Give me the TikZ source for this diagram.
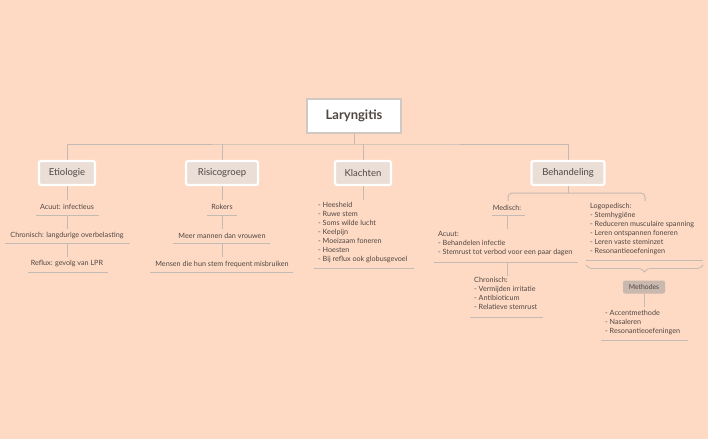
\documentclass[tikz,border=0pt]{standalone}
\usepackage{fontspec}
\setmainfont{Lato}
\usetikzlibrary{decorations.pathreplacing}
\definecolor{bg}{RGB}{254,218,196}
\definecolor{ln}{RGB}{196,186,180}
\definecolor{tx}{RGB}{80,70,66}
\definecolor{boxf}{RGB}{234,222,214}
\definecolor{meth}{RGB}{200,184,174}
\begin{document}
\begin{tikzpicture}[x=1pt,y=-1pt,
  conn/.style={draw=ln,line width=1pt},
  lvl/.style={draw=white,line width=2.2pt,fill=boxf,rounded corners=2pt,minimum height=24pt,font=\fontsize{9.5}{10}\selectfont,text=tx,inner sep=0pt},
  leaf/.style={font=\fontsize{7.2}{9}\selectfont,text=tx,inner sep=0pt},
  lst/.style={leaf,align=left,anchor=north west},
  ul/.style={draw=ln,line width=0.8pt}]
\fill[bg] (0,0) rectangle (708,439);
\useasboundingbox (0,0) rectangle (708,439);
\node[draw=ln!80,line width=2pt,fill=white,minimum width=94pt,minimum height=34pt,font=\bfseries\fontsize{13}{14}\selectfont,text=tx] (root) at (354,116) {Laryngitis};
\node[lvl,minimum width=56pt] (eti) at (67,173) {Etiologie};
\node[lvl,minimum width=72pt] (ris) at (222,173) {Risicogroep};
\node[lvl,minimum width=56pt] (kla) at (363,173) {Klachten};
\node[lvl,minimum width=73pt] (beh) at (568,173) {Behandeling};
\coordinate (j) at (354,144);
\draw[conn] (root.south) -- (j);
\draw[conn] (eti.north) |- (j) -| (beh.north);
\draw[conn] (ris.north) -- (ris.north |- j);
\draw[conn] (kla.north) -- (kla.north |- j);
% Etiologie
\node[leaf] (e1) at (67,207) {Acuut: infectieus};
\node[leaf] (e2) at (67,236) {Chronisch: langdurige overbelasting};
\node[leaf] (e3) at (67,264) {Reflux: gevolg van LPR};
\coordinate (e1u) at (67,215);\coordinate (e2u) at (67,243);
\draw[conn] (eti.south) -- ++(0,14);
\draw[ul] (36,215) -- (99,215); \draw[ul] (5,243) -- (130,243); \draw[ul] (28,272) -- (108,272);
\draw[conn] (e1u) -- ++(0,14); \draw[conn] (e2u) -- ++(0,14);
% Risicogroep
\node[leaf] (r1) at (222,207) {Rokers};
\node[leaf] (r2) at (222,236) {Meer mannen dan vrouwen};
\node[leaf] (r3) at (222,264) {Mensen die hun stem frequent misbruiken};
\draw[conn] (ris.south) -- ++(0,14);
\draw[ul] (207,215) -- (237,215); \draw[ul] (173,243) -- (270,243); \draw[ul] (150,272) -- (293,272);
\draw[conn] (222,215) -- ++(0,14); \draw[conn] (222,243) -- ++(0,14);
% Klachten
\draw[conn] (kla.south) -- ++(0,14);
\node[lst] (k) at (318,202) {- Heesheid\\- Ruwe stem\\- Soms wilde lucht\\- Keelpijn\\- Moeizaam foneren\\- Hoesten\\- Bij reflux ook globusgevoel};
\draw[ul] (314,268) -- (414,268);
% Behandeling
\draw[conn] (beh.south) -- (568,193);
\draw[conn,rounded corners=4pt] (508,201) -- (508,193) -- (645,193) -- (645,201);
\node[leaf] (med) at (507,208) {Medisch:};
\draw[ul] (492,215) -- (525,215);
\draw[conn] (507,215) -- (507,229);
\node[lst] (acu) at (438,231) {Acuut:\\- Behandelen infectie\\- Stemrust tot verbod voor een paar dagen};
\draw[ul] (434,262) -- (578,262);
\draw[conn] (507,262) -- (507,276);
\node[lst] (chr) at (474,277) {Chronisch:\\- Vermijden irritatie\\- Antibioticum\\- Relatieve stemrust};
\draw[ul] (470,317) -- (543,317);
\node[lst] (log) at (590,203) {Logopedisch:\\- Stemhygiëne\\- Reduceren musculaire spanning\\- Leren ontspannen foneren\\- Leren vaste steminzet\\- Resonantieoefeningen};
\draw[ul] (586,260) -- (703,260);
\draw[conn,line width=0.8pt,decorate,decoration={brace,mirror,amplitude=7pt}] (586,265) -- (703,265);
\node[fill=meth,rounded corners=2pt,minimum width=42pt,minimum height=13pt,inner sep=0pt,font=\fontsize{6.8}{8}\selectfont,text=tx] (met) at (644,287) {Methodes};
\draw[conn] (met.south) -- (644,307);
\node[lst] (ml) at (605,310) {- Accentmethode\\- Nasaleren\\- Resonantieoefeningen};
\draw[ul] (601,340) -- (688,340);
\end{tikzpicture}
\end{document}
